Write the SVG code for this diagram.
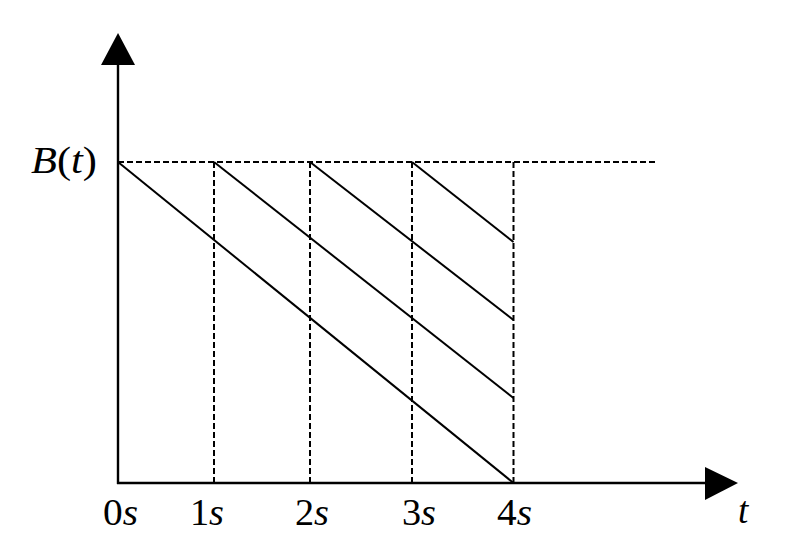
<svg xmlns="http://www.w3.org/2000/svg" width="792" height="554" viewBox="0 0 792 554">
<style>
.ax{stroke:#000;stroke-width:2.4;fill:none}
.ln{stroke:#000;stroke-width:2;fill:none}
.ds{stroke:#000;stroke-width:2;fill:none;stroke-dasharray:6 3}
.lb{font-family:"Liberation Serif","Times New Roman",serif;font-size:37px;fill:#000}
.it{font-style:italic}
</style>
<rect width="792" height="554" fill="#fff"/>
<g id="axes">
<line class="ax" x1="118" y1="60" x2="118" y2="484"/>
<line class="ax" x1="117" y1="483" x2="710" y2="483"/>
<polygon points="118,33 101,65 135,65" fill="#000"/>
<polygon points="738,483 705,467 705,500" fill="#000"/>
</g>
<g id="grid">
<line class="ds" x1="118" y1="162" x2="658" y2="162"/>
<line class="ds" x1="214" y1="162" x2="214" y2="483"/>
<line class="ds" x1="310" y1="162" x2="310" y2="483"/>
<line class="ds" x1="412" y1="162" x2="412" y2="483"/>
<line class="ds" x1="513.5" y1="162" x2="513.5" y2="483"/>
</g>
<g id="connectors">
<line class="ln" x1="118" y1="162" x2="513.5" y2="483"/>
<line class="ln" x1="214" y1="162" x2="513.5" y2="398"/>
<line class="ln" x1="310" y1="162" x2="513.5" y2="320"/>
<line class="ln" x1="412" y1="162" x2="513.5" y2="242"/>
</g>
<g id="labels">
<text class="lb" x="31" y="173" textLength="66" lengthAdjust="spacingAndGlyphs"><tspan class="it">B</tspan>(<tspan class="it">t</tspan>)</text>
<text class="lb" x="103" y="525" textLength="35" lengthAdjust="spacingAndGlyphs">0<tspan class="it">s</tspan></text>
<text class="lb" x="190" y="525" textLength="34" lengthAdjust="spacingAndGlyphs">1<tspan class="it">s</tspan></text>
<text class="lb" x="295" y="525" textLength="34" lengthAdjust="spacingAndGlyphs">2<tspan class="it">s</tspan></text>
<text class="lb" x="402" y="525" textLength="34" lengthAdjust="spacingAndGlyphs">3<tspan class="it">s</tspan></text>
<text class="lb" x="497" y="525" textLength="35" lengthAdjust="spacingAndGlyphs">4<tspan class="it">s</tspan></text>
<text class="lb it" x="738" y="523" font-size="38">t</text>
</g>
</svg>
